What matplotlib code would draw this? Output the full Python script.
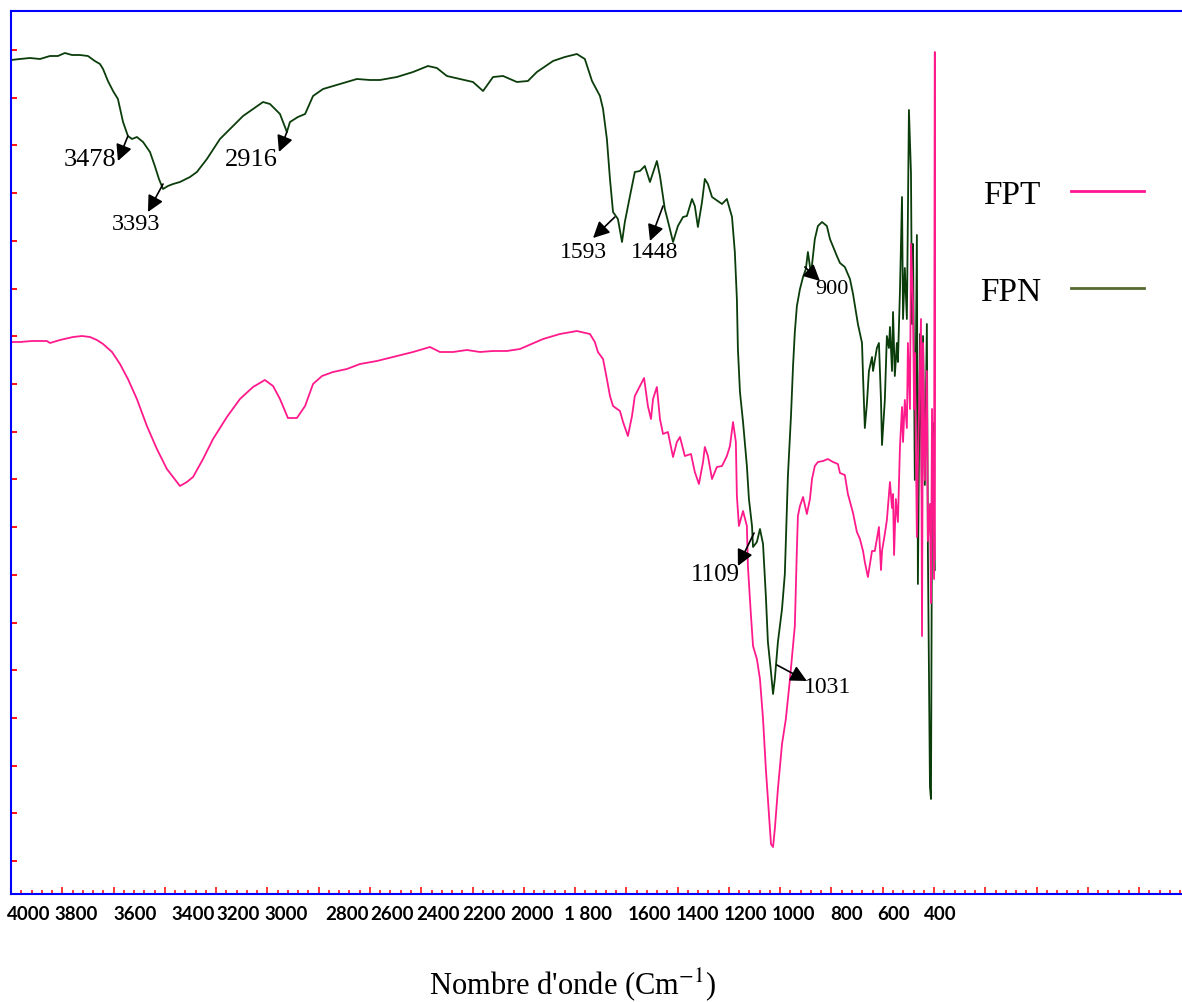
import numpy as np
import matplotlib
matplotlib.use("Agg")
import matplotlib.pyplot as plt
from matplotlib.ticker import MultipleLocator
from matplotlib.lines import Line2D

plt.rcParams['mathtext.fontset'] = 'stix'

# spectre FPN (nombre d'onde cm-1, transmittance u.a.)
fpn = np.array([
    (4000, 83.9), (3965, 84.0), (3926, 84.1), (3887, 84.0), (3848, 84.3), (3817, 84.3), (3790, 84.6), (3762, 84.4),
    (3731, 84.4), (3700, 84.3), (3673, 83.8), (3653, 83.5), (3641, 83.0), (3622, 81.8), (3602, 80.8), (3583, 80.0),
    (3563, 77.7), (3544, 76.3), (3528, 76.0), (3509, 76.2), (3485, 75.7), (3458, 74.7), (3439, 73.3), (3423, 72.0),
    (3407, 71.0), (3388, 71.3), (3368, 71.5), (3341, 71.7), (3302, 72.2), (3275, 72.7), (3236, 74.0), (3185, 76.0),
    (3134, 77.3), (3095, 78.3), (3056, 79.0), (3017, 79.7), (2990, 79.5), (2951, 78.5), (2924, 76.7), (2912, 77.7),
    (2881, 78.2), (2853, 78.5), (2822, 80.3), (2783, 81.0), (2717, 81.5), (2651, 82.0), (2600, 81.9), (2561, 81.9),
    (2495, 82.2), (2432, 82.7), (2374, 83.3), (2339, 83.1), (2300, 82.3), (2249, 82.0), (2198, 81.7), (2159, 80.8),
    (2120, 82.2), (2081, 82.3), (2027, 81.7), (1984, 81.8), (1949, 82.7), (1886, 83.8), (1840, 84.2), (1793, 84.5),
    (1762, 84.0), (1734, 81.8), (1703, 80.3), (1691, 79.0), (1676, 76.0), (1664, 72.0), (1652, 68.7), (1633, 68.0),
    (1617, 65.7), (1606, 67.7), (1586, 70.3), (1567, 72.7), (1547, 72.8), (1528, 73.3), (1508, 71.7), (1481, 73.8),
    (1469, 72.3), (1450, 69.0), (1438, 67.8), (1418, 65.7), (1399, 67.3), (1379, 68.2), (1364, 68.3), (1344, 70.0),
    (1333, 69.3), (1321, 67.2), (1305, 69.7), (1294, 72.0), (1282, 71.5), (1266, 70.2), (1227, 69.5), (1208, 70.0),
    (1188, 68.2), (1177, 64.7), (1169, 60.0), (1165, 55.0), (1157, 50.7), (1145, 47.7), (1138, 45.7), (1130, 43.3),
    (1122, 40.0), (1110, 37.3), (1106, 35.2), (1091, 35.7), (1079, 37.0), (1067, 35.5), (1056, 30.3), (1048, 25.7),
    (1036, 22.7), (1028, 20.5), (1021, 22.0), (1009, 25.7), (993, 29.0), (982, 32.5), (970, 42.3), (958, 48.3),
    (950, 53.3), (943, 56.7), (935, 59.3), (923, 61.0), (911, 62.2), (900, 63.0), (892, 64.7), (880, 62.5),
    (865, 66.0), (853, 67.3), (837, 67.7), (818, 67.3), (806, 66.0), (779, 64.3), (767, 63.6), (748, 63.2),
    (728, 62.0), (716, 60.5), (697, 57.5), (681, 55.6), (677, 52.3), (670, 47.1), (662, 49.5), (654, 52.8),
    (642, 54.2), (638, 52.8), (623, 55.1), (615, 55.6), (607, 49.9), (603, 45.4), (592, 49.9), (584, 56.3),
    (576, 55.1), (572, 57.2), (564, 52.8), (560, 58.7), (553, 52.3), (545, 55.6), (541, 53.7), (533, 60.8),
    (525, 70.2), (521, 58.0), (514, 63.1), (506, 58.0), (498, 78.9), (490, 72.6), (486, 57.5), (482, 65.5),
    (475, 41.9), (467, 66.4), (463, 31.5), (455, 56.5), (447, 39.5), (443, 56.3), (436, 41.4), (428, 57.5),
    (424, 34.8), (416, 11.2), (412, 10.0), (408, 39.5), (404, 47.6), (397, 32.9),
])

# spectre FPT
fpt = np.array([
    (4000, 55.7), (3965, 55.7), (3918, 55.8), (3860, 55.8), (3848, 55.6), (3809, 55.9), (3758, 56.2), (3723, 56.3),
    (3692, 56.2), (3665, 55.9), (3641, 55.5), (3606, 54.7), (3575, 53.5), (3544, 52.0), (3509, 50.0), (3470, 47.3),
    (3431, 45.0), (3392, 43.0), (3368, 42.2), (3341, 41.3), (3314, 41.7), (3290, 42.2), (3251, 44.0), (3212, 46.0),
    (3158, 48.2), (3107, 50.0), (3056, 51.2), (3010, 51.9), (2978, 51.3), (2951, 50.0), (2920, 48.1), (2885, 48.1),
    (2853, 49.3), (2822, 51.5), (2787, 52.3), (2744, 52.7), (2690, 53.0), (2639, 53.5), (2573, 53.8), (2510, 54.2),
    (2432, 54.7), (2366, 55.2), (2327, 54.7), (2276, 54.7), (2222, 54.9), (2171, 54.7), (2120, 54.8), (2066, 54.8),
    (2015, 55.0), (1988, 55.3), (1925, 56.0), (1859, 56.5), (1793, 56.8), (1742, 56.5), (1723, 55.7), (1711, 54.7),
    (1691, 54.0), (1676, 52.0), (1664, 50.3), (1652, 49.3), (1625, 48.8), (1613, 47.7), (1594, 46.3), (1578, 48.3),
    (1567, 50.3), (1547, 51.3), (1531, 52.1), (1516, 49.3), (1504, 48.0), (1496, 50.0), (1481, 51.2), (1469, 48.0),
    (1457, 46.5), (1438, 46.7), (1418, 44.2), (1403, 45.7), (1391, 46.2), (1372, 44.3), (1348, 44.5), (1333, 42.7),
    (1317, 41.5), (1301, 43.7), (1294, 45.2), (1282, 44.3), (1266, 42.0), (1247, 43.2), (1227, 43.3), (1208, 44.3),
    (1196, 45.3), (1184, 47.7), (1173, 45.7), (1169, 40.3), (1161, 37.3), (1145, 38.8), (1130, 37.3), (1126, 33.3),
    (1114, 28.3), (1106, 25.3), (1091, 24.0), (1079, 22.0), (1067, 18.0), (1056, 13.0), (1044, 8.5), (1036, 5.5),
    (1028, 5.2), (1021, 7.0), (1009, 11.0), (993, 15.5), (978, 18.0), (962, 22.0), (943, 27.3), (935, 35.0),
    (931, 38.3), (923, 39.3), (911, 40.2), (896, 38.5), (884, 40.0), (876, 42.0), (865, 43.3), (853, 43.7),
    (833, 43.8), (814, 44.0), (794, 43.7), (775, 43.5), (767, 42.6), (748, 42.4), (736, 40.5), (716, 38.6),
    (701, 36.7), (689, 36.0), (677, 34.8), (670, 33.7), (658, 32.2), (642, 34.8), (631, 34.8), (623, 36.0),
    (615, 37.2), (607, 32.9), (603, 34.8), (592, 36.5), (584, 37.9), (572, 41.7), (564, 39.1), (560, 40.5),
    (556, 34.4), (549, 40.0), (541, 37.7), (533, 45.2), (525, 49.2), (521, 45.7), (514, 49.9), (506, 47.1),
    (502, 55.6), (494, 49.0), (490, 65.5), (482, 59.4), (478, 49.0), (475, 54.6), (467, 36.2), (463, 43.8),
    (451, 58.0), (447, 26.3), (443, 55.6), (436, 41.9), (428, 52.8), (424, 35.8), (416, 39.5), (412, 29.6),
    (408, 49.0), (400, 32.0), (397, 84.7), (397, 34.0),
])

# graduations écrites sous l'axe (texte collé, décalé des vraies graduations)
tick_text = ['4000', '3800', '3600', '3400', '3200', '3000', '2800', '2600', '2400', '2200',
             '2000', '1 800', '1600', '1400', '1200', '1000', '800', '600', '400']
tick_text_x = [3930, 3747, 3516, 3290, 3115, 2928, 2690, 2514, 2335, 2155,
               1968, 1750, 1508, 1321, 1134, 950, 740, 556, 377]

# bandes annotées: texte, point sur la courbe, pointe de la flèche, position du texte, taille
bands = [
    ('3478', (3544, 76.3), (3583, 73.8), (3692, 74.0), 19),
    ('3393', (3407, 71.5), (3466, 68.7), (3513, 67.5), 17.5),
    ('2916', (2924, 76.7), (2955, 74.7), (3064, 74.0), 19),
    ('1593', (1645, 68.2), (1730, 66.1), (1769, 64.7), 17),
    ('1448', (1457, 69.3), (1508, 65.8), (1488, 64.7), 17),
    ('900', (904, 63.2), (845, 61.8), (798, 61.0), 16),
    ('1109', (1102, 36.6), (1165, 33.3), (1251, 32.5), 18),
    ('1031', (1013, 23.4), (896, 21.8), (814, 21.2), 17),
]

fig = plt.figure(figsize=(11.82, 10.03), dpi=100)
ax = fig.add_axes([11 / 1182, 108 / 1003, 1171 / 1182, 883 / 1003])

ax.plot(fpn[:, 0], fpn[:, 1], color='#0b3d0b', lw=1.3)
ax.plot(fpt[:, 0], fpt[:, 1], color='#ff1a8c', lw=1.3)

ax.set_xlim(4000, -567)
ax.set_ylim(0.5, 88.8)

for s in ['left', 'top', 'bottom']:
    ax.spines[s].set_color('blue')
    ax.spines[s].set_linewidth(1.5)
ax.spines['right'].set_visible(False)

ax.xaxis.set_major_locator(MultipleLocator(200))
ax.xaxis.set_minor_locator(MultipleLocator(40))
ax.set_yticks(np.arange(3.8, 86, 4.77))
ax.tick_params(axis='x', which='major', direction='in', length=5, width=1.1,
               color='red', labelbottom=False)
ax.tick_params(axis='x', which='minor', direction='in', length=2.8, width=1.1, color='red')
ax.tick_params(axis='y', direction='in', length=4.3, width=1.3, color='red', labelleft=False)

for lab, xp in zip(tick_text, tick_text_x):
    ax.text(xp, -0.0226, lab, transform=ax.get_xaxis_transform(), ha='center', va='center',
            fontfamily='Lato', fontweight='bold', fontsize=13.5)

for lab, tail, tip, tpos, size in bands:
    ax.annotate('', xy=tip, xytext=tail,
                arrowprops=dict(arrowstyle='-|>,head_length=0.7,head_width=0.35', color='black',
                                lw=1.2, shrinkA=0, shrinkB=0, mutation_scale=14))
    ax.text(tpos[0], tpos[1], lab, fontfamily='Liberation Serif', fontsize=size,
            ha='center', va='center')

handles = [Line2D([], [], color='#ff1493', lw=2), Line2D([], [], color='#556b2f', lw=2)]
ax.legend(handles, ['FPT', 'FPN'], markerfirst=False, frameon=False,
          prop={'family': 'Liberation Serif', 'size': 24}, handlelength=2.2,
          handletextpad=0.9, labelspacing=2.0, loc='center', bbox_to_anchor=(0.8975, 0.737))

ax.set_xlabel("Nombre d'onde (Cm$^{-1}$)", fontfamily='Liberation Serif', fontsize=22)
ax.xaxis.set_label_coords(0.48, -0.081)

fig.savefig('out.png', dpi=100)
